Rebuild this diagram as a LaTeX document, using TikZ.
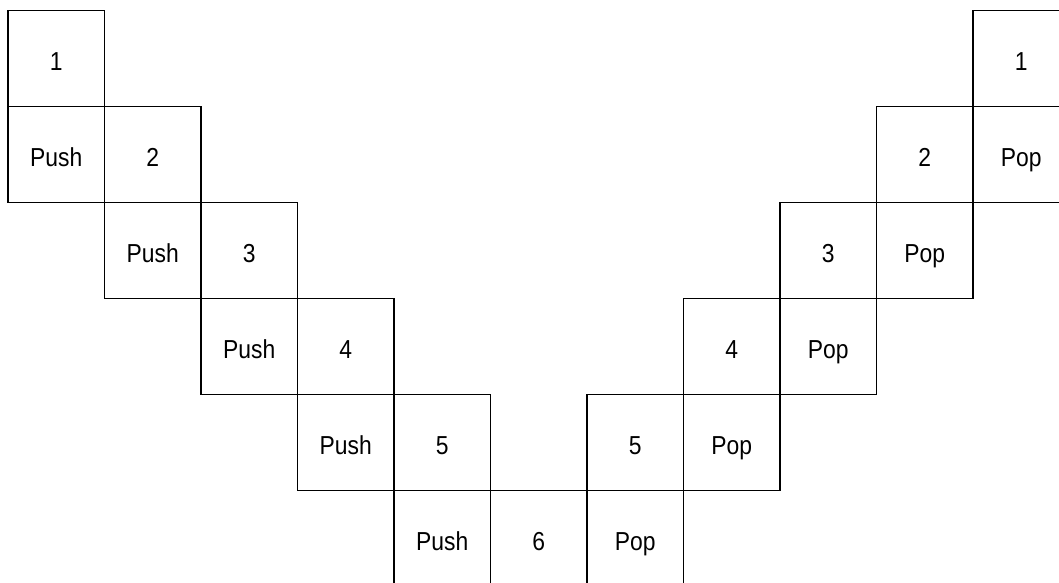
\documentclass[tikz,border=0pt]{standalone}
\usepackage{fontspec}
\setmainfont{Liberation Sans}[FakeStretch=0.88]
\begin{document}
\begin{tikzpicture}[x=1pt,y=1pt,
  cell/.style={draw=black,line width=1.3pt,rectangle,minimum width=96.5pt,minimum height=96pt,inner sep=0pt,
    font=\fontsize{26}{28}\selectfont,text height=24pt,text depth=1pt,text=black}]
\useasboundingbox (0,0) rectangle (1059,-582);
\clip (0,0) rectangle (1059,-582);
\def\cx#1{8+96.5*(#1+0.5)}
\def\cy#1{-(10.5+96*(#1+0.5))}
% left staircase (push)
\node[cell] (l1) at ({\cx{0}},{\cy{0}}) {1};
\node[cell] (push1) at ({\cx{0}},{\cy{1}}) {Push};
\node[cell] (l2) at ({\cx{1}},{\cy{1}}) {2};
\node[cell] (push2) at ({\cx{1}},{\cy{2}}) {Push};
\node[cell] (l3) at ({\cx{2}},{\cy{2}}) {3};
\node[cell] (push3) at ({\cx{2}},{\cy{3}}) {Push};
\node[cell] (l4) at ({\cx{3}},{\cy{3}}) {4};
\node[cell] (push4) at ({\cx{3}},{\cy{4}}) {Push};
\node[cell] (l5) at ({\cx{4}},{\cy{4}}) {5};
\node[cell] (push5) at ({\cx{4}},{\cy{5}}) {Push};
\node[cell] (l6) at ({\cx{5}},{\cy{5}}) {6};
% right staircase (pop)
\node[cell] (pop6) at ({\cx{6}},{\cy{5}}) {Pop};
\node[cell] (r5) at ({\cx{6}},{\cy{4}}) {5};
\node[cell] (pop5) at ({\cx{7}},{\cy{4}}) {Pop};
\node[cell] (r4) at ({\cx{7}},{\cy{3}}) {4};
\node[cell] (pop4) at ({\cx{8}},{\cy{3}}) {Pop};
\node[cell] (r3) at ({\cx{8}},{\cy{2}}) {3};
\node[cell] (pop3) at ({\cx{9}},{\cy{2}}) {Pop};
\node[cell] (r2) at ({\cx{9}},{\cy{1}}) {2};
\node[cell] (pop2) at ({\cx{10}},{\cy{1}}) {Pop};
\node[cell] (r1) at ({\cx{10}},{\cy{0}}) {1};
\end{tikzpicture}
\end{document}
